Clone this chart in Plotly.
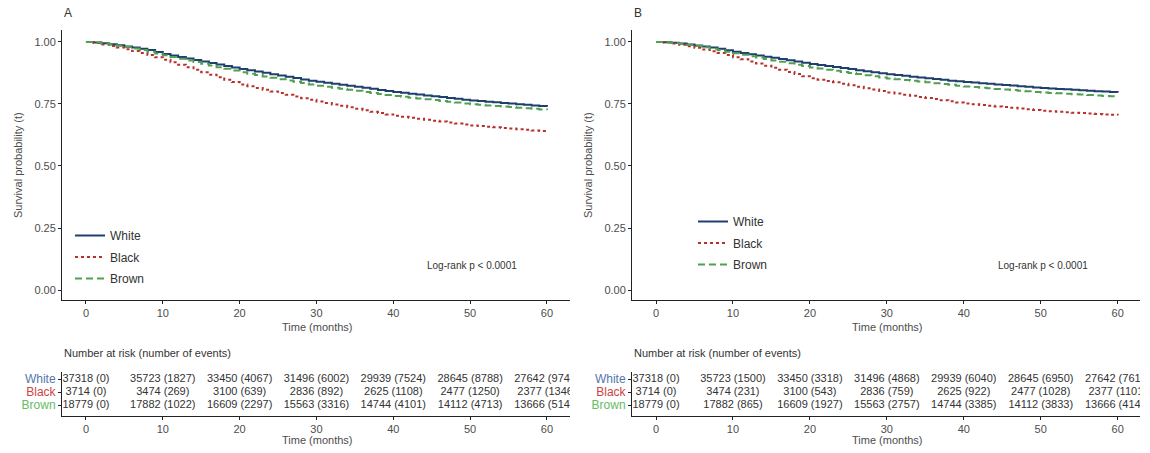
import plotly.graph_objects as go

months = list(range(0, 61))

# Panel A survival estimates
surv_A_white = [1.000,0.998,0.995,0.991,0.987,0.982,0.977,0.972,0.967,0.959,0.951,
                0.945,0.939,0.933,0.927,0.921,0.915,0.909,0.903,0.897,0.891,
                0.886,0.881,0.876,0.870,0.865,0.860,0.855,0.849,0.844,0.839,
                0.835,0.831,0.827,0.823,0.819,0.815,0.811,0.806,0.802,0.798,
                0.795,0.791,0.788,0.784,0.781,0.778,0.774,0.771,0.767,0.764,
                0.762,0.759,0.757,0.754,0.752,0.749,0.747,0.744,0.742,0.739]
surv_A_black = [1.000,0.996,0.990,0.984,0.977,0.970,0.963,0.955,0.947,0.938,0.928,
                0.918,0.908,0.898,0.888,0.878,0.868,0.858,0.848,0.838,0.828,
                0.821,0.814,0.807,0.800,0.794,0.787,0.780,0.773,0.767,0.760,
                0.754,0.748,0.743,0.737,0.731,0.725,0.719,0.714,0.708,0.702,
                0.698,0.694,0.690,0.686,0.682,0.679,0.675,0.671,0.667,0.663,
                0.661,0.658,0.656,0.653,0.651,0.648,0.646,0.643,0.641,0.638]
surv_A_brown = [1.000,0.998,0.994,0.990,0.985,0.979,0.973,0.967,0.960,0.953,0.946,
                0.939,0.932,0.925,0.919,0.912,0.905,0.898,0.892,0.885,0.878,
                0.872,0.867,0.861,0.856,0.850,0.845,0.839,0.834,0.828,0.823,
                0.819,0.815,0.811,0.807,0.803,0.798,0.794,0.790,0.786,0.782,
                0.779,0.775,0.772,0.769,0.766,0.762,0.759,0.756,0.752,0.749,
                0.747,0.744,0.742,0.740,0.738,0.735,0.733,0.731,0.728,0.726]

# Panel B survival estimates
surv_B_white = [1.000,0.999,0.997,0.994,0.990,0.986,0.982,0.977,0.972,0.966,0.960,
                0.955,0.950,0.945,0.940,0.936,0.931,0.926,0.921,0.916,0.911,
                0.907,0.903,0.899,0.895,0.891,0.886,0.882,0.878,0.874,0.870,
                0.867,0.864,0.860,0.857,0.854,0.851,0.848,0.844,0.841,0.838,
                0.836,0.833,0.831,0.828,0.826,0.824,0.821,0.819,0.816,0.814,
                0.812,0.810,0.809,0.807,0.805,0.803,0.801,0.800,0.798,0.796]
surv_B_black = [1.000,0.998,0.994,0.989,0.983,0.976,0.969,0.962,0.955,0.947,0.938,
                0.930,0.921,0.913,0.904,0.896,0.888,0.879,0.871,0.862,0.854,
                0.848,0.842,0.837,0.831,0.825,0.819,0.813,0.808,0.802,0.796,
                0.792,0.787,0.783,0.778,0.774,0.770,0.765,0.761,0.756,0.752,
                0.749,0.746,0.743,0.740,0.738,0.735,0.732,0.729,0.726,0.723,
                0.721,0.719,0.717,0.715,0.714,0.712,0.710,0.708,0.706,0.704]
surv_B_brown = [1.000,0.999,0.996,0.993,0.989,0.984,0.978,0.972,0.966,0.960,0.954,
                0.948,0.942,0.937,0.931,0.925,0.920,0.914,0.908,0.903,0.897,
                0.893,0.888,0.884,0.879,0.875,0.871,0.866,0.862,0.857,0.853,
                0.850,0.847,0.843,0.840,0.837,0.833,0.830,0.827,0.823,0.820,
                0.818,0.815,0.813,0.810,0.808,0.806,0.803,0.801,0.798,0.796,
                0.794,0.793,0.791,0.789,0.788,0.786,0.784,0.782,0.781,0.779]

# Risk table
table_times = [0, 10, 20, 30, 40, 50, 60]
risk_white = [37318, 35723, 33450, 31496, 29939, 28645, 27642]
risk_black = [3714, 3474, 3100, 2836, 2625, 2477, 2377]
risk_brown = [18779, 17882, 16609, 15563, 14744, 14112, 13666]
events_A_white = [0, 1827, 4067, 6002, 7524, 8788, 9749]
events_A_black = [0, 269, 639, 892, 1108, 1250, 1346]
events_A_brown = [0, 1022, 2297, 3316, 4101, 4713, 5144]
events_B_white = [0, 1500, 3318, 4868, 6040, 6950, 7617]
events_B_black = [0, 231, 543, 759, 922, 1028, 1101]
events_B_brown = [0, 865, 1927, 2757, 3385, 3833, 4149]

groups = ["White", "Black", "Brown"]
line_colors = {"White": "#1f3f6e", "Black": "#b8302b", "Brown": "#4fa04f"}
label_colors = {"White": "#5577aa", "Black": "#cc4444", "Brown": "#66bb66"}
dashes = {"White": "solid", "Black": "3px,3px", "Brown": "7px,4px"}
row_pos = {"White": 3, "Black": 2, "Brown": 1}

FONT = "Liberation Sans, Arial, sans-serif"
TXT = "#4d4d4d"

fig = go.Figure()

panels = [
    ("x", "y", "legend", {"White": surv_A_white, "Black": surv_A_black, "Brown": surv_A_brown}),
    ("x2", "y2", "legend2", {"White": surv_B_white, "Black": surv_B_black, "Brown": surv_B_brown}),
]
for xa, ya, leg, data in panels:
    for g in groups:
        fig.add_trace(go.Scatter(
            x=months, y=data[g], mode="lines", name=g, line_shape="hv",
            line=dict(color=line_colors[g], width=2, dash=dashes[g]),
            xaxis=xa, yaxis=ya, legend=leg, legendgroup=leg + g, showlegend=True))

tables = [
    ("x3", "y3", {"White": events_A_white, "Black": events_A_black, "Brown": events_A_brown}),
    ("x4", "y4", {"White": events_B_white, "Black": events_B_black, "Brown": events_B_brown}),
]
risks = {"White": risk_white, "Black": risk_black, "Brown": risk_brown}
for xa, ya, ev in tables:
    for g in groups:
        fig.add_trace(go.Scatter(
            x=table_times, y=[row_pos[g]] * len(table_times), mode="text",
            text=[f"{r} ({e})" for r, e in zip(risks[g], ev[g])],
            textfont=dict(family=FONT, size=11, color="#333333"),
            textposition="middle center", cliponaxis=True,
            xaxis=xa, yaxis=ya, showlegend=False, hoverinfo="skip"))

W, H = 1150, 453
def px_x(a, b):
    return [a / W, b / W]
def px_y(top, bottom):
    return [(H - bottom) / H, (H - top) / H]

xr_A = [-3.12, 63.0]
xr_B = [-3.12, 62.9]
common_x = dict(showgrid=False, zeroline=False, showline=True, linecolor="#222222",
                linewidth=1, ticks="outside", ticklen=3, tickcolor="#222222",
                tickvals=table_times, tickfont=dict(family=FONT, size=11, color=TXT))
common_y = dict(showgrid=False, zeroline=False, showline=True, linecolor="#222222",
                linewidth=1, ticks="outside", ticklen=3, tickcolor="#222222",
                tickfont=dict(family=FONT, size=11, color=TXT))

ytick_main = dict(tickvals=[0, 0.25, 0.5, 0.75, 1.0],
                  ticktext=["0.00", "0.25", "0.50", "0.75", "1.00"], range=[-0.04, 1.048])
tab_ticktext = [f"<span style='color:{label_colors[g]}'>{g}</span>" for g in groups]

fig.update_layout(
    width=W, height=H, margin=dict(l=0, r=0, t=0, b=0),
    paper_bgcolor="white", plot_bgcolor="white",
    font=dict(family=FONT, size=11, color=TXT),
    xaxis=dict(common_x, domain=px_x(62, 570), range=xr_A, anchor="y"),
    yaxis=dict(common_y, domain=px_y(30, 300), anchor="x", **ytick_main),
    xaxis2=dict(common_x, domain=px_x(632, 1140), range=xr_B, anchor="y2"),
    yaxis2=dict(common_y, domain=px_y(30, 300), anchor="x2", **ytick_main),
    xaxis3=dict(common_x, domain=px_x(62, 570), range=xr_A, anchor="y3"),
    yaxis3=dict(common_y, domain=px_y(372, 416), anchor="x3", tickvals=[3, 2, 1],
                ticktext=tab_ticktext, range=[0.154, 3.54]),
    xaxis4=dict(common_x, domain=px_x(632, 1140), range=xr_B, anchor="y4"),
    yaxis4=dict(common_y, domain=px_y(372, 416), anchor="x4", tickvals=[3, 2, 1],
                ticktext=tab_ticktext, range=[0.154, 3.54]),
    legend=dict(x=70 / W, y=(H - 221) / H, xanchor="left", yanchor="top",
                bgcolor="rgba(0,0,0,0)", font=dict(family=FONT, size=12, color="#333333"),
                tracegroupgap=2.5, itemwidth=30),
    legend2=dict(x=693 / W, y=(H - 207) / H, xanchor="left", yanchor="top",
                 bgcolor="rgba(0,0,0,0)", font=dict(family=FONT, size=12, color="#333333"),
                 tracegroupgap=2.5, itemwidth=30),
)
fig.layout.yaxis3.tickfont = dict(family=FONT, size=12, color=TXT)
fig.layout.yaxis4.tickfont = dict(family=FONT, size=12, color=TXT)

def ann(x, y, text, size=11, xanchor="center", yanchor="middle", angle=0, color=TXT):
    fig.add_annotation(x=x / W, y=(H - y) / H, xref="paper", yref="paper", text=text,
                       showarrow=False, xanchor=xanchor, yanchor=yanchor, textangle=angle,
                       font=dict(family=FONT, size=size, color=color))

# panel letters
ann(62, 13, "A", size=12, xanchor="left", color="#333333")
ann(632, 13, "B", size=12, xanchor="left", color="#333333")
# y titles
ann(18, 165, "Survival probability (t)", angle=-90)
ann(588, 165, "Survival probability (t)", angle=-90)
# x titles
ann(317, 327, "Time (months)")
ann(887, 327, "Time (months)")
ann(317, 440, "Time (months)")
ann(887, 440, "Time (months)")
# risk table titles
ann(62, 353, "Number at risk (number of events)", xanchor="left", color="#333333")
ann(632, 353, "Number at risk (number of events)", xanchor="left", color="#333333")
# log-rank
ann(472, 265, "Log-rank p &lt; 0.0001", size=10, color="#333333")
ann(1043, 265, "Log-rank p &lt; 0.0001", size=10, color="#333333")

fig.write_html("out.html")
